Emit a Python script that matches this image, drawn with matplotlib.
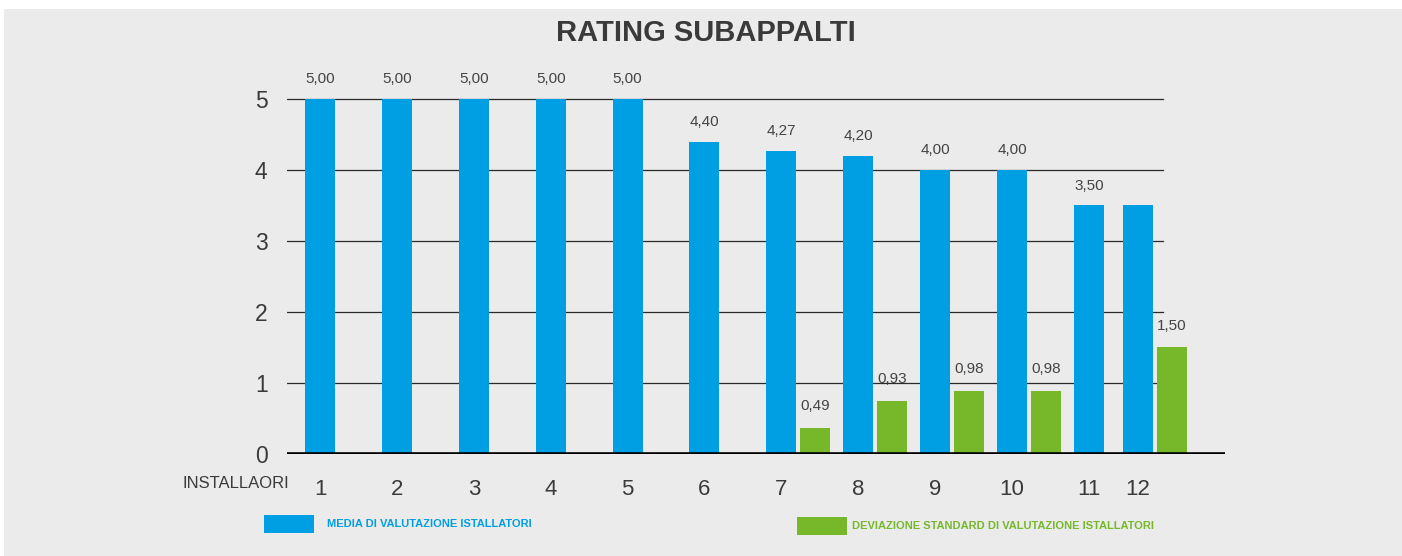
#!/usr/bin/env python3
import numpy as np
import matplotlib.pyplot as plt
from matplotlib.patches import Rectangle

# Data
installers = ['1', '2', '3', '4', '5', '6', '7', '8', '9', '10', '11', '12']
media = [5.00, 5.00, 5.00, 5.00, 5.00, 4.40, 4.27, 4.20, 4.00, 4.00, 3.50, 3.50]
media_labels = ['5,00', '5,00', '5,00', '5,00', '5,00', '4,40', '4,27', '4,20', '4,00', '4,00', '3,50', '']
# green bar heights as drawn in the original (labels differ from the drawn heights)
dev = [0, 0, 0, 0, 0, 0, 0.37, 0.75, 0.89, 0.89, 0, 1.50]
dev_labels = ['', '', '', '', '', '', '0,49', '0,93', '0,98', '0,98', '', '1,50']
y_ticks = [0, 1, 2, 3, 4, 5]

blue = '#009fe3'
green = '#76b82a'
bg = '#ebebeb'
text_color = '#3a3a3a'

plt.rcParams['font.family'] = ['Liberation Sans', 'DejaVu Sans']

fig = plt.figure(figsize=(14.02, 5.56), dpi=100, facecolor='white')
# grey panel (thin white strip top and left in the original)
fig.patches.append(Rectangle((4 / 1402, 0), 1, 1 - 9 / 556, transform=fig.transFigure,
                             facecolor=bg, edgecolor='none', zorder=-10))

ax = fig.add_axes([287 / 1402, 102 / 556, 938 / 1402, 387 / 556])
ax.set_facecolor('none')

x = np.arange(len(installers), dtype=float)
x[-1] -= 0.36  # last group sits closer in the original
bar_width = 0.39
offset = 0.44

bars1 = ax.bar(x, media, bar_width, color=blue, zorder=3)
bars2 = ax.bar(x + offset, dev, bar_width, color=green, zorder=3)

ax.set_xlim(-0.43, 11.77)
ax.set_ylim(0, 5.45)

# grid lines
for y in y_ticks[1:]:
    ax.axhline(y, xmin=0, xmax=0.934, color='#2a2a2a', lw=0.9, zorder=2)
ax.axhline(0, color='black', lw=2.6, zorder=4)

for s in ax.spines.values():
    s.set_visible(False)

ax.set_yticks(y_ticks)
ax.set_yticklabels([str(v) for v in y_ticks], fontsize=16.5, color=text_color)
ax.set_xticks(x)
ax.set_xticklabels(installers, fontsize=16, color=text_color)
ax.tick_params(axis='both', length=0)
ax.tick_params(axis='y', pad=14)
ax.tick_params(axis='x', pad=18)

# value labels
for bar, lab in zip(bars1, media_labels):
    if lab:
        ax.text(bar.get_x() + bar.get_width() / 2, bar.get_height() + 0.28, lab,
                ha='center', va='center', fontsize=11, color='#444444')
for bar, lab in zip(bars2, dev_labels):
    if lab:
        ax.text(bar.get_x() + bar.get_width() / 2, bar.get_height() + 0.3, lab,
                ha='center', va='center', fontsize=11, color='#444444')

fig.text(236 / 1402, 1 - 483 / 556, 'INSTALLAORI', ha='center', va='center',
         fontsize=12, color=text_color)

fig.text(706 / 1402, 1 - 33 / 556, 'RATING SUBAPPALTI', ha='center', va='center',
         fontsize=21, fontweight='bold', color=text_color)

# legend
fig.patches.append(Rectangle((264 / 1402, 1 - 533 / 556), 50 / 1402, 18 / 556,
                             transform=fig.transFigure, facecolor=blue, edgecolor='none'))
fig.text(327 / 1402, 1 - 524 / 556, 'MEDIA DI VALUTAZIONE ISTALLATORI', ha='left', va='center',
         fontsize=8, fontweight='bold', color=blue)
fig.patches.append(Rectangle((797 / 1402, 1 - 535 / 556), 50 / 1402, 18 / 556,
                             transform=fig.transFigure, facecolor=green, edgecolor='none'))
fig.text(852 / 1402, 1 - 526 / 556, 'DEVIAZIONE STANDARD DI VALUTAZIONE ISTALLATORI', ha='left',
         va='center', fontsize=8, fontweight='bold', color=green)

plt.savefig('out.png', dpi=100, facecolor=fig.get_facecolor())
